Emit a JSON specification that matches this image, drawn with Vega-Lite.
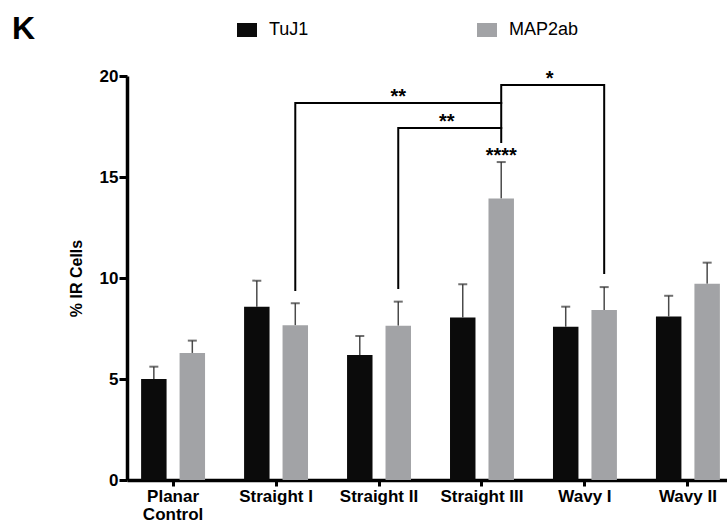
{
  "$schema": "https://vega.github.io/schema/vega-lite/v6.json",
  "width": 600,
  "height": 404,
  "autosize": {"type": "none"},
  "padding": {"left": 127, "top": 76, "right": 0, "bottom": 43},
  "background": "white",
  "config": {"view": {"stroke": null}, "font": "Liberation Sans"},
  "title": {"text": "K", "anchor": "start", "frame": "group", "fontSize": 32, "fontWeight": "bold", "font": "Liberation Sans", "color": "black", "baseline": "top", "dx": -115, "dy": 26, "offset": 0},
  "datasets": {
    "bars": [
      {"category": "Planar Control", "series": "TuJ1", "value": 5.0, "upper": 5.61},
      {"category": "Planar Control", "series": "MAP2ab", "value": 6.29, "upper": 6.9},
      {"category": "Straight I", "series": "TuJ1", "value": 8.58, "upper": 9.87},
      {"category": "Straight I", "series": "MAP2ab", "value": 7.66, "upper": 8.75},
      {"category": "Straight II", "series": "TuJ1", "value": 6.19, "upper": 7.13},
      {"category": "Straight II", "series": "MAP2ab", "value": 7.64, "upper": 8.83},
      {"category": "Straight III", "series": "TuJ1", "value": 8.05, "upper": 9.69},
      {"category": "Straight III", "series": "MAP2ab", "value": 13.93, "upper": 15.74},
      {"category": "Wavy I", "series": "TuJ1", "value": 7.59, "upper": 8.58},
      {"category": "Wavy I", "series": "MAP2ab", "value": 8.42, "upper": 9.55},
      {"category": "Wavy II", "series": "TuJ1", "value": 8.10, "upper": 9.12},
      {"category": "Wavy II", "series": "MAP2ab", "value": 9.72, "upper": 10.76}
    ],
    "brackets": [
      {"bracket": "b1", "step": 1, "category": "Straight I", "series": "MAP2ab", "value": 9.4},
      {"bracket": "b1", "step": 2, "category": "Straight I", "series": "MAP2ab", "value": 18.66},
      {"bracket": "b1", "step": 3, "category": "Straight III", "series": "MAP2ab", "value": 18.66},
      {"bracket": "b2", "step": 1, "category": "Straight II", "series": "MAP2ab", "value": 9.5},
      {"bracket": "b2", "step": 2, "category": "Straight II", "series": "MAP2ab", "value": 17.43},
      {"bracket": "b2", "step": 3, "category": "Straight III", "series": "MAP2ab", "value": 17.43},
      {"bracket": "b3", "step": 1, "category": "Straight III", "series": "MAP2ab", "value": 16.73},
      {"bracket": "b3", "step": 2, "category": "Straight III", "series": "MAP2ab", "value": 19.55},
      {"bracket": "b3", "step": 3, "category": "Wavy I", "series": "MAP2ab", "value": 19.55},
      {"bracket": "b3", "step": 4, "category": "Wavy I", "series": "MAP2ab", "value": 10.25}
    ],
    "sig": [
      {"bracket": "b1", "label": "**", "category": "Straight II", "series": "MAP2ab", "value": 18.66},
      {"bracket": "bar", "label": "****", "category": "Straight III", "series": "MAP2ab", "value": 15.74},
      {"bracket": "b2", "label": "**", "category": "Straight III", "series": "TuJ1", "value": 17.43},
      {"bracket": "b3", "label": "*", "category": "Wavy I", "series": "TuJ1", "value": 19.55}
    ]
  },
  "encoding": {
    "x": {
      "field": "category", "type": "nominal",
      "scale": {"domain": ["Planar Control", "Straight I", "Straight II", "Straight III", "Wavy I", "Wavy II"], "range": [0, 607], "paddingInner": 0.379, "paddingOuter": 0.137},
      "axis": {"title": null, "labelAngle": 0, "labelFont": "Liberation Sans", "labelFontSize": 17, "labelFontWeight": "bold", "labelColor": "black", "labelBaseline": "top", "labelPadding": 2, "labelLineHeight": 18, "labelExpr": "datum.label == 'Planar Control' ? ['Planar', 'Control'] : datum.label", "tickSize": 6, "tickWidth": 3, "tickColor": "black", "domainWidth": 3.5, "domainColor": "black", "grid": false}
    },
    "xOffset": {"field": "series", "type": "nominal", "scale": {"domain": ["TuJ1", "MAP2ab"], "paddingInner": 0.338}},
    "y": {
      "field": "value", "type": "quantitative",
      "scale": {"domain": [0, 20], "nice": false},
      "axis": {"title": "% IR Cells", "titleFont": "Liberation Sans", "titleFontSize": 16, "titleFontWeight": "bold", "titleColor": "black", "titlePadding": 15, "values": [0, 5, 10, 15, 20], "labelFont": "Liberation Sans", "labelFontSize": 17, "labelFontWeight": "bold", "labelColor": "black", "labelPadding": 1, "tickSize": 8, "tickWidth": 3, "tickColor": "black", "domainWidth": 3.5, "domainColor": "black", "grid": false}
    }
  },
  "layer": [
    {
      "data": {"name": "bars"},
      "mark": {"type": "rule", "color": "#4a4a4a", "strokeWidth": 1.5},
      "encoding": {"y2": {"field": "upper"}}
    },
    {
      "data": {"name": "bars"},
      "mark": {"type": "tick", "color": "#333333", "thickness": 2, "size": 9, "orient": "horizontal"},
      "encoding": {"y": {"field": "upper", "type": "quantitative"}}
    },
    {
      "data": {"name": "bars"},
      "mark": {"type": "bar"},
      "encoding": {
        "color": {"field": "series", "type": "nominal",
          "scale": {"domain": ["TuJ1", "MAP2ab"], "range": ["#0b0b0b", "#a2a3a6"]},
          "legend": {"title": null, "orient": "none", "legendX": 110, "legendY": -56, "direction": "horizontal", "symbolType": "M-1,-0.7H1V0.7H-1Z", "symbolSize": 400, "symbolStrokeWidth": 0, "labelFont": "Liberation Sans", "labelFontSize": 18, "labelColor": "black", "labelOffset": 12, "columnPadding": 168}
        }
      }
    },
    {
      "data": {"name": "brackets"},
      "mark": {"type": "line", "color": "black", "strokeWidth": 2, "strokeCap": "square"},
      "encoding": {"detail": {"field": "bracket"}, "order": {"field": "step", "type": "quantitative"}}
    },
    {
      "data": {"name": "sig"},
      "transform": [{"filter": "datum.bracket == 'b1' || datum.bracket == 'bar'"}],
      "mark": {"type": "text", "font": "Liberation Sans", "fontSize": 20, "fontWeight": "bold", "color": "black", "baseline": "alphabetic", "align": "center"},
      "encoding": {"text": {"field": "label"}}
    },
    {
      "data": {"name": "sig"},
      "transform": [{"filter": "datum.bracket == 'b2' || datum.bracket == 'b3'"}],
      "mark": {"type": "text", "font": "Liberation Sans", "fontSize": 20, "fontWeight": "bold", "color": "black", "baseline": "alphabetic", "align": "center", "dx": -16},
      "encoding": {"text": {"field": "label"}}
    }
  ]
}
